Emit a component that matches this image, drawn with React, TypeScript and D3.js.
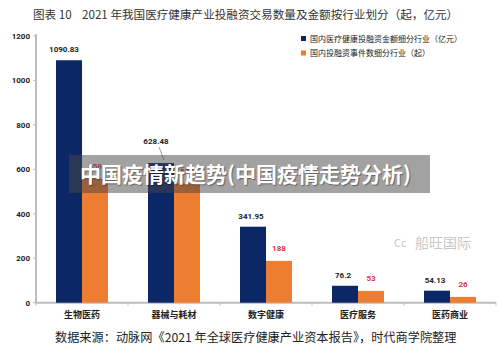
import React from 'react';
import * as d3 from 'd3';

// data
const categories = ['生物医药', '器械与耗材', '数字健康', '医疗服务', '医药商业'];
const amountValues = [1090.83, 628.48, 341.95, 76.2, 54.13]; // 亿元
const countValues = [558, 536, 188, 53, 26]; // 起
const amountLabels = ['1090.83', '628.48', '341.95', '76.2', '54.13'];
const countLabels = ['558', '536', '188', '53', '26'];
const yTicks = [0, 200, 400, 600, 800, 1000, 1200];
const seriesKeys = ['amount', 'count'];
const legendLabels = ['国内医疗健康投融资金额细分行业（亿元）', '国内投融资事件数细分行业（起）'];

const NAVY = '#0c2766';
const ORANGE = '#ed7d31';

const App = () => {
  const width = 500;
  const height = 350;
  const margin = { top: 36, right: 4, bottom: 47.3, left: 36 };

  const y = d3.scaleLinear()
    .domain([0, 1200])
    .range([height - margin.bottom, margin.top]);

  const x0 = d3.scaleBand()
    .domain(categories)
    .range([margin.left, width - margin.right])
    .paddingInner(0.4348)
    .paddingOuter(0.2174);

  const x1 = d3.scaleBand()
    .domain(seriesKeys)
    .range([0, x0.bandwidth()]);

  const step = x0.step();
  const baseY = y(0);
  const font = '"Noto Sans CJK SC", "Noto Sans", sans-serif';

  return (
    <svg width={width} height={height} style={{ position: 'absolute', left: 0, top: 0, background: '#fff' }}>
      {/* title */}
      <text x={33} y={19} fontSize={11.6} fill="#333" fontFamily={font}>
        图表 10{'\u00a0\u00a0\u00a0\u00a0'}2021 年我国医疗健康产业投融资交易数量及金额按行业划分（起，亿元）
      </text>

      {/* y axis */}
      <line x1={margin.left} x2={margin.left} y1={y(1200) - 2} y2={baseY} stroke="#bdbdbd" strokeWidth={2} />
      {yTicks.map(t => (
        <g key={t}>
          <line x1={margin.left - 3} x2={margin.left} y1={y(t)} y2={y(t)} stroke="#bdbdbd" strokeWidth={1} />
          <text x={30} y={y(t) + 3} textAnchor="end" fontSize={8} fontWeight="bold" fill="#222" fontFamily="Roboto, sans-serif">
            {t}
          </text>
        </g>
      ))}

      {/* x axis */}
      <line x1={margin.left - 1} x2={width - margin.right} y1={baseY} y2={baseY} stroke="#bdbdbd" strokeWidth={2} />
      {d3.range(categories.length + 1).map(i => (
        <line key={i} x1={margin.left + i * step} x2={margin.left + i * step} y1={baseY} y2={baseY + 3}
          stroke="#bdbdbd" strokeWidth={1} />
      ))}
      {categories.map(c => (
        <text key={c} x={(x0(c) as number) + x0.bandwidth() / 2} y={318} textAnchor="middle" fontSize={9}
          fontWeight="bold" fill="#222" fontFamily={font}>
          {c}
        </text>
      ))}

      {/* bars */}
      {categories.map((c, i) => {
        const gx = x0(c) as number;
        const ax = gx + (x1('amount') as number);
        const cx = gx + (x1('count') as number);
        const bw = x1.bandwidth();
        const lifted = i === 1;
        const ay = y(amountValues[i]);
        const cy = y(countValues[i]);
        return (
          <g key={c}>
            <rect x={ax} y={ay} width={bw} height={baseY - ay} fill={NAVY} />
            <rect x={cx} y={cy} width={bw} height={baseY - cy} fill={ORANGE} />
            {lifted && (
              <line x1={ax + bw / 2 - 2} y1={ay - 16} x2={ax + bw / 2 + 3} y2={ay - 3} stroke="#777" strokeWidth={0.7} />
            )}
            <text x={ax + bw / 2 - (i < 2 ? 5 : 2)} y={ay - (lifted ? 19 : 8)} textAnchor="middle" fontSize={8}
              fontWeight="bold" fill="#222" fontFamily="Roboto, sans-serif">
              {amountLabels[i]}
            </text>
            <text x={cx + bw / 2} y={cy - 10} textAnchor="middle" fontSize={8} fontWeight="bold" fill="#e0343c"
              fontFamily="Roboto, sans-serif">
              {countLabels[i]}
            </text>
          </g>
        );
      })}

      {/* legend */}
      {legendLabels.map((l, i) => (
        <g key={l} transform={`translate(301,${36 + i * 14.5})`}>
          <rect x={0} y={0} width={5} height={5} fill={i === 0 ? NAVY : ORANGE} />
          <text x={9} y={5.5} fontSize={8} fill="#222" fontFamily={font}>{l}</text>
        </g>
      ))}

      {/* watermark */}
      <g fill="#c8c8c8" fontFamily={font}>
        <text x={394} y={247} fontSize={11}>Cc</text>
        <text x={415} y={248} fontSize={14}>船旺国际</text>
      </g>

      {/* overlay banner */}
      <rect x={69} y={155} width={361} height={38} fill="rgba(70,70,70,0.5)" />
      <text x={80} y={182} fontSize={21} fontWeight="bold" fill="#fff" fontFamily={font}
        style={{ textShadow: '1px 1px 1px rgba(0,0,0,0.4)' }}>
        中国疫情新趋势(中国疫情走势分析)
      </text>

      {/* source */}
      <text x={55} y={342} fontSize={12.2} fill="#222" fontFamily={font}>
        数据来源：动脉网《2021 年全球医疗健康产业资本报告》，时代商学院整理
      </text>
    </svg>
  );
};

export default App;
